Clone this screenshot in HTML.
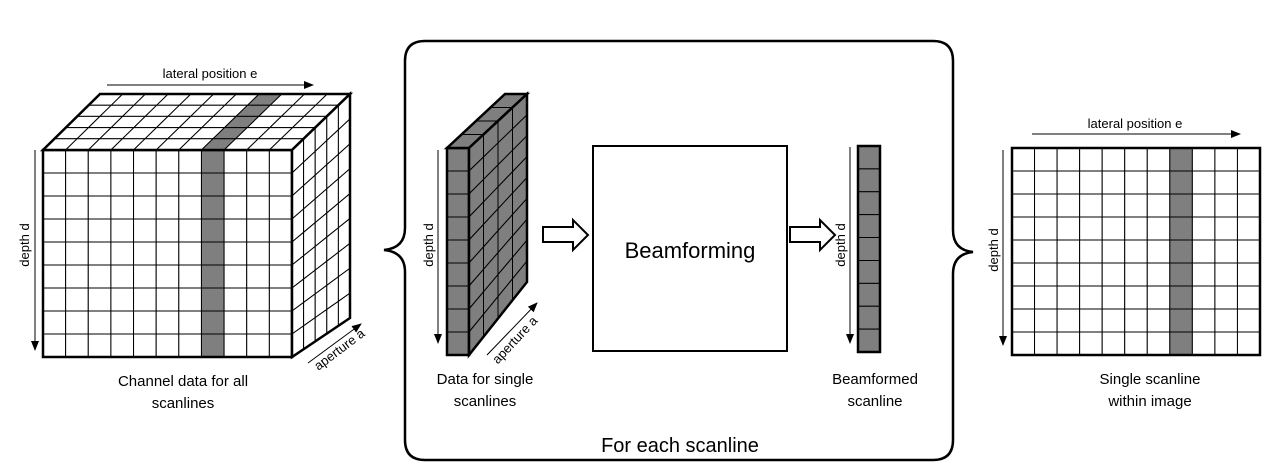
<!DOCTYPE html>
<html><head><meta charset="utf-8"><style>
html,body{margin:0;padding:0;background:#fff;width:1279px;height:475px;overflow:hidden}
svg{display:block;font-family:"Liberation Sans",Arial,sans-serif}
</style></head><body>
<svg id="s" width="1279" height="475" viewBox="0 0 1279 475" xmlns="http://www.w3.org/2000/svg">
<defs>
<marker id="ah" markerWidth="10" markerHeight="8" refX="9" refY="4" orient="auto" markerUnits="userSpaceOnUse"><path d="M0,0 L10,4 L0,8 z" fill="#000"/></marker>
</defs>
<g id="g"></g>
<g font-size="13" fill="#000">
<text x="210" y="78" text-anchor="middle">lateral position e</text>
<text transform="translate(29,245) rotate(-90)" text-anchor="middle">depth d</text>
<text transform="translate(342,353) rotate(-37)" text-anchor="middle">aperture a</text>
<text transform="translate(433,245) rotate(-90)" text-anchor="middle">depth d</text>
<text transform="translate(518,343) rotate(-47)" text-anchor="middle">aperture a</text>
<text transform="translate(845,245) rotate(-90)" text-anchor="middle">depth d</text>
<text x="1135" y="128" text-anchor="middle">lateral position e</text>
<text transform="translate(998,250) rotate(-90)" text-anchor="middle">depth d</text>
</g>
<g font-size="15" fill="#000" text-anchor="middle">
<text x="183" y="386">Channel data for all</text>
<text x="183" y="408">scanlines</text>
<text x="485" y="384">Data for single</text>
<text x="485" y="406">scanlines</text>
<text x="875" y="384">Beamformed</text>
<text x="875" y="406">scanline</text>
<text x="1150" y="384">Single scanline</text>
<text x="1150" y="406">within image</text>
</g>
<text x="690" y="258" font-size="22" text-anchor="middle">Beamforming</text>
<text x="680" y="452" font-size="20" text-anchor="middle">For each scanline</text>
</svg>
<script>
var g=document.getElementById('g'),NS='http://www.w3.org/2000/svg';
function el(t,a){var e=document.createElementNS(NS,t);for(var k in a)e.setAttribute(k,a[k]);g.appendChild(e);return e;}
function L(x1,y1,x2,y2,w,arrow){var e=el('line',{x1:x1,y1:y1,x2:x2,y2:y2,stroke:'#000','stroke-width':w||1});if(arrow)e.setAttribute('marker-end','url(#ah)');}
function P(pts,fill,w){el('polygon',{points:pts.map(function(p){return p.join(',')}).join(' '),fill:fill,stroke:'#000','stroke-width':w||1});}
function lerp(a,b,t){return [a[0]+(b[0]-a[0])*t,a[1]+(b[1]-a[1])*t];}
var GR='#7f7f7f';
function quad(p00,p10,p11,p01,nu,nv,fillFn,w){
 for(var i=0;i<nu;i++)for(var j=0;j<nv;j++){
  var a=lerp(lerp(p00,p01,j/nv),lerp(p10,p11,j/nv),i/nu),
      b=lerp(lerp(p00,p01,j/nv),lerp(p10,p11,j/nv),(i+1)/nu),
      c=lerp(lerp(p00,p01,(j+1)/nv),lerp(p10,p11,(j+1)/nv),(i+1)/nu),
      d=lerp(lerp(p00,p01,(j+1)/nv),lerp(p10,p11,(j+1)/nv),i/nu);
  P([a,b,c,d],fillFn(i,j),1);
 }
 P([p00,p10,p11,p01],'none',w||2.5);
}
quad([43,150],[292,150],[292,357],[43,357],11,9,function(i){return i==7?GR:'#fff'});
quad([100,94],[350,94],[292,150],[43,150],11,5,function(i){return i==7?GR:'#fff'});
quad([292,150],[350,94],[350,318],[292,357],5,9,function(){return '#fff'});
L(107,85,313,85,1,1);L(35,150,35,350,1,1);L(308,363,361,324,1,1);
el('path',{d:'M425,41 L933,41 Q953,41 953,61 L953,230 Q953,250 973,252 Q953,254 953,274 L953,440 Q953,460 933,460 L425,460 Q405,460 405,440 L405,272 Q405,252 384,250 Q405,248 405,228 L405,61 Q405,41 425,41 Z',fill:'none',stroke:'#000','stroke-width':2.5});
quad([447,148],[469,148],[469,355],[447,355],1,9,function(){return GR});
quad([505,94],[527,94],[469,148],[447,148],1,4,function(){return GR});
quad([469,148],[527,94],[527,282],[469,355],4,9,function(){return GR});
L(438,150,438,343,1,1);L(487,355,537,303,1,1);
function harrow(x1,x2){P([[x1,227],[x2-15,227],[x2-15,220],[x2,235],[x2-15,250],[x2-15,242],[x1,242]],'#fff',2);}
harrow(543,588);harrow(790,835);
el('rect',{x:593,y:146,width:194,height:205,fill:'#fff',stroke:'#000','stroke-width':2});
quad([858,146],[880,146],[880,352],[858,352],1,9,function(){return GR});
L(850,147,850,343,1,1);
quad([1012,148],[1260,148],[1260,355],[1012,355],11,9,function(i){return i==7?GR:'#fff'});
L(1032,134,1240,134,1,1);L(1003,150,1003,345,1,1);
</script>
</body></html>
